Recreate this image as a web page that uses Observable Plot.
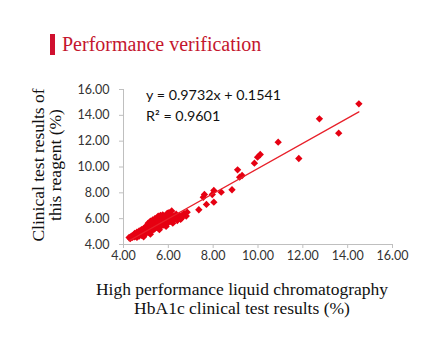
<!DOCTYPE html>
<html><head><meta charset="utf-8">
<script src="https://cdn.jsdelivr.net/npm/d3@7"></script>
<script src="https://cdn.jsdelivr.net/npm/@observablehq/plot@0.6"></script>
<style>
body{margin:0;background:#fff;}
#wrap{position:relative;width:441px;height:349px;overflow:hidden;background:#fff;}
#wrap svg{position:absolute;left:0;top:0;}
.abs{position:absolute;white-space:nowrap;}
.serif{font-family:"Liberation Serif","Times New Roman",serif;color:#111;}
</style></head><body>
<div id="wrap"></div>
<script>
const title = "Performance verification";
const yLabelLines = ["Clinical test results of", "this reagent (%)"];
const xLabelLines = ["High performance liquid chromatography", "HbA1c clinical test results (%)"];
const equationText = "y = 0.9732x + 0.1541";
const r2Text = "R² = 0.9601";
const slope = 0.9732, intercept = 0.1541;
const xTicks = [4, 6, 8, 10, 12, 14, 16];
const yTicks = [4, 6, 8, 10, 12, 14, 16];

// HPLC results (x) and reagent results (y)
const hplc = [
  4.25,4.3,4.35,4.4,4.45,4.5,4.5,4.55,4.6,4.6,4.65,4.7,4.7,4.75,4.8,4.8,4.85,4.9,4.9,4.95,
  5.0,5.0,5.0,5.05,5.1,5.1,5.1,5.15,5.2,5.2,5.2,5.25,5.3,5.3,5.3,5.35,5.4,5.4,5.4,5.45,
  5.5,5.5,5.5,5.55,5.6,5.6,5.6,5.65,5.7,5.7,5.7,5.75,5.8,5.8,5.8,5.85,5.9,5.9,5.95,6.0,
  6.0,6.05,6.1,6.1,6.15,6.2,6.25,6.3,6.35,6.4,6.5,6.6,6.7,6.8,5.45,5.55,5.65,5.75,5.25,5.05,
  4.85,5.35,6.15,6.0,4.9,5.2,5.6,5.9,6.2,6.4,6.55,5.95,6.05,
  6.62,6.84,7.36,7.56,7.61,7.70,7.96,8.03,8.03,8.36,8.84,9.09,9.18,9.29,9.84,9.98,10.1,10.9,11.82,12.74,13.6,14.5
];
const reagent = [
  4.55,4.45,4.65,4.55,4.75,4.6,4.85,4.7,4.55,4.95,4.8,4.65,5.05,4.9,4.7,5.15,4.95,4.8,5.25,5.05,
  4.85,5.35,5.1,5.5,4.95,5.25,5.65,5.4,5.05,5.8,5.5,5.3,5.15,5.9,5.6,5.4,5.25,6.0,5.7,5.5,
  5.3,6.05,5.8,5.55,5.4,6.1,5.85,5.6,5.45,6.15,5.9,5.65,5.5,6.2,5.95,5.75,5.6,6.05,5.85,5.7,
  6.25,6.0,5.8,6.3,6.05,5.9,6.2,6.0,6.35,6.1,6.25,6.05,6.4,6.2,5.95,6.2,6.25,6.3,5.75,5.2,
  5.05,5.15,6.6,6.45,4.6,4.8,5.15,5.4,5.65,5.85,5.95,6.4,6.45,
  6.25,6.5,6.69,7.66,7.87,7.10,7.87,8.18,7.28,8.05,8.24,9.78,9.21,9.34,10.30,10.76,10.97,11.92,10.66,13.73,12.62,14.89
];

const points = hplc.map((x, i) => ({x, y: reagent[i]}));
const fit = d3.extent(hplc).map(x => ({x, y: slope * x + intercept}));
const fmt = d => d.toFixed(2);

const chart = Plot.plot({
  width: 441, height: 349,
  marginLeft: 123, marginRight: 49, marginTop: 89, marginBottom: 105,
  x: {domain: [4, 16]},
  y: {domain: [4, 16]},
  style: {fontFamily: "Lato, sans-serif", fontSize: "12.5px", background: "transparent", overflow: "visible"},
  marks: [
    Plot.ruleX([4], {stroke: "#bfbfbf"}),
    Plot.ruleY([4], {stroke: "#bfbfbf"}),
    Plot.axisX({ticks: xTicks, tickSize: 4, fill: "none", stroke: "#bfbfbf", label: null}),
    Plot.axisX({ticks: xTicks, tickSize: 0, tickPadding: 7, stroke: "none", fill: "#333", tickFormat: fmt, label: null}),
    Plot.axisY({ticks: yTicks, tickSize: 4, fill: "none", stroke: "#bfbfbf", label: null}),
    Plot.axisY({ticks: yTicks, tickSize: 0, tickPadding: 14, stroke: "none", fill: "#333", tickFormat: fmt, label: null}),
    Plot.dot(points, {x: "x", y: "y", symbol: "diamond2", r: 3.3, fill: "#e60012", stroke: "none"}),
    Plot.line(fit, {x: "x", y: "y", stroke: "#e8202a", strokeWidth: 1.3})
  ]
});

const wrap = document.getElementById("wrap");
wrap.appendChild(chart);

function addDiv(html, css, cls) {
  const d = document.createElement("div");
  d.className = "abs " + (cls || "");
  d.innerHTML = html;
  Object.assign(d.style, css);
  wrap.appendChild(d);
  return d;
}
// title bar + title
addDiv("", {left: "50px", top: "34px", width: "5px", height: "21px", background: "#d0102f"});
addDiv(title, {left: "62px", top: "34px", fontSize: "20px", lineHeight: "20px", color: "#c4162e",
  fontFamily: "'Liberation Serif','Times New Roman',serif"});
// y label
addDiv(yLabelLines.join("<br>"), {left: (47 - 100) + "px", top: (165 - 17) + "px", width: "200px", height: "34px",
  textAlign: "center", fontSize: "17.5px", lineHeight: "17px", transform: "rotate(-90deg)", transformOrigin: "50% 50%"}, "serif");
// x label
addDiv(xLabelLines.join("<br>"), {left: (242 - 160) + "px", top: "280px", width: "320px",
  textAlign: "center", fontSize: "17.5px", lineHeight: "19px"}, "serif");
// equation
addDiv(equationText + "<br>" + r2Text, {left: "146px", top: "84px", fontSize: "14.3px", lineHeight: "21px",
  fontFamily: "Lato, sans-serif", color: "#111"});
</script>
</body></html>
